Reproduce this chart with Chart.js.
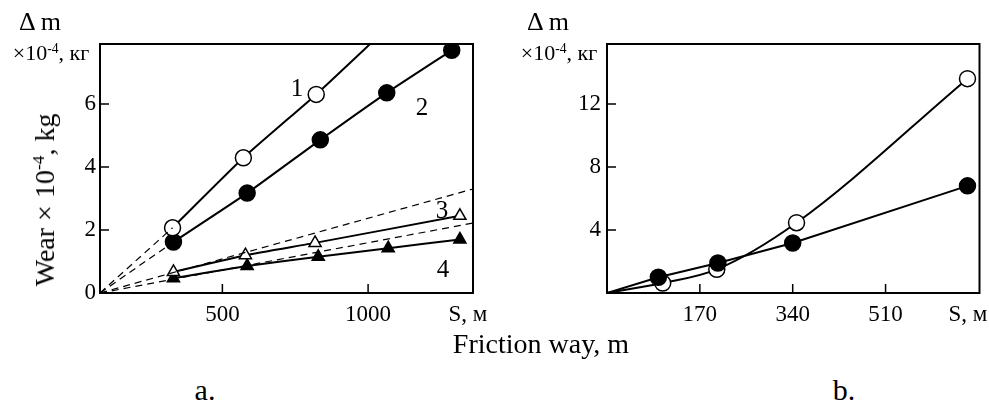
<!DOCTYPE html>
<html>
<head>
<meta charset="utf-8">
<script src="https://cdn.jsdelivr.net/npm/chart.js@4.4.0/dist/chart.umd.min.js"></script>
<style>
  body { margin: 0; background: #fff; }
  #wrap { position: relative; width: 989px; height: 405px; overflow: hidden; font-family: 'Liberation Serif', 'DejaVu Serif', serif; color: #000; }
  canvas { position: absolute; top: 0; }
  .t { position: absolute; transform: translate(-50%, -50%); white-space: nowrap; line-height: 1; }
  .t sup { font-size: 0.62em; vertical-align: 0.55em; line-height: 0; }
</style>
</head>
<body>
<div id="wrap">
  <canvas id="chartA" width="500" height="330" style="left:0"></canvas>
  <canvas id="chartB" width="489" height="330" style="left:500px"></canvas>

  <div class="t" style="left:40px;top:22px;font-size:26px">Δ m</div>
  <div class="t" style="left:51px;top:53px;font-size:22px">×10<sup>-4</sup>, кг</div>
  <div class="t" style="left:548px;top:22px;font-size:26px">Δ m</div>
  <div class="t" style="left:559px;top:53px;font-size:22px">×10<sup>-4</sup>, кг</div>
  <div class="t" style="left:45px;top:200px;font-size:28px;transform:translate(-50%,-50%) rotate(-90deg)">Wear × 10<sup>-4</sup>, kg</div>
  <div class="t" style="left:468px;top:313px;font-size:23px">S, м</div>
  <div class="t" style="left:968px;top:313px;font-size:23px">S, м</div>
  <div class="t" style="left:541px;top:344px;font-size:28px">Friction way, m</div>
  <div class="t" style="left:205px;top:390px;font-size:30px">a.</div>
  <div class="t" style="left:844px;top:390px;font-size:30px">b.</div>
  <div class="t" style="left:297px;top:87px;font-size:25px">1</div>
  <div class="t" style="left:422px;top:106px;font-size:25px">2</div>
  <div class="t" style="left:442px;top:209px;font-size:25px">3</div>
  <div class="t" style="left:443px;top:268px;font-size:25px">4</div>
</div>

<script>
// panel a: friction way S, m -> wear x10^-4 kg
var aOrigin = 80;
var a1S = [329, 572, 822, 1007];
var a1W = [2.07, 4.29, 6.3, 7.9];
var a2S = [332, 585, 836, 1064, 1287];
var a2W = [1.62, 3.17, 4.86, 6.35, 7.7];
var a3S = [332, 579, 818, 1315];
var a3W = [0.67, 1.2, 1.59, 2.45];
var a4S = [332, 585, 829, 1069, 1315];
var a4W = [0.47, 0.86, 1.15, 1.42, 1.7];
// dashed straight lines from origin
var aDashEndS = [329, 332, 1360, 1360];
var aDashEndW = [2.07, 1.62, 3.3, 2.22];
var aTicksX = [500, 1000];
var aTicksY = [0, 2, 4, 6];

// panel b
var bOpenS = [0, 102, 201, 347, 660];
var bOpenW = [0, 0.63, 1.5, 4.46, 13.6];
var bFillS = [0, 94, 203, 340, 660];
var bFillW = [0, 1.0, 1.9, 3.17, 6.8];
var bTicksX = [170, 340, 510];
var bTicksY = [4, 8, 12];

var serif = "'Liberation Serif', 'DejaVu Serif', serif";

function pts(xs, ys) {
    return xs.map((x, i) => ({ x: x, y: ys[i] }));
}

// box round the plot and short ticks pointing inward
var frame = {
    id: 'frame',
    afterDraw: function (chart, args, opts) {
        var c = chart.ctx, a = chart.chartArea;
        c.save();
        c.strokeStyle = '#000';
        c.lineWidth = 2;
        c.strokeRect(a.left, a.top, a.right - a.left, a.bottom - a.top);
        c.lineWidth = 1.5;
        c.beginPath();
        opts.xt.forEach(v => {
            var px = chart.scales.x.getPixelForValue(v);
            c.moveTo(px, a.bottom);
            c.lineTo(px, a.bottom - 9);
        });
        opts.yt.forEach(v => {
            var py = chart.scales.y.getPixelForValue(v);
            c.moveTo(a.left, py);
            c.lineTo(a.left + 9, py);
        });
        c.stroke();
        c.restore();
    }
};

function axis(min, max, ticks, pad, fit) {
    return {
        type: 'linear',
        min: min,
        max: max,
        grid: { display: false, drawTicks: false },
        border: { display: false },
        afterBuildTicks: function (s) { s.ticks = ticks.map(v => ({ value: v })); },
        afterFit: fit,
        ticks: {
            color: '#000',
            padding: pad,
            font: { family: serif, size: 23 },
            callback: v => String(v)
        }
    };
}

function solid(data, style, fill, r) {
    return {
        data: data,
        borderColor: '#000',
        borderWidth: 2,
        pointStyle: style,
        pointRadius: r,
        pointBackgroundColor: fill,
        pointBorderColor: '#000',
        pointBorderWidth: 1.5,
        tension: 0.15
    };
}

function dashed(i) {
    return {
        data: [{ x: aOrigin, y: 0 }, { x: aDashEndS[i], y: aDashEndW[i] }],
        borderColor: '#000',
        borderWidth: 1.2,
        borderDash: [7, 5],
        pointRadius: 0
    };
}

var baseOpts = {
    responsive: false,
    animation: false,
    devicePixelRatio: 1,
    plugins: { legend: { display: false }, tooltip: { enabled: false } }
};

new Chart(document.getElementById('chartA').getContext('2d'), {
    type: 'line',
    data: {
        datasets: [
            dashed(0), dashed(1), dashed(2), dashed(3),
            solid(pts(a1S, a1W), 'circle', '#fff', ctx => ctx.dataIndex < 3 ? 8 : 0),
            solid(pts(a2S, a2W), 'circle', '#000', 8),
            solid(pts(a3S, a3W), 'triangle', '#fff', 7),
            solid(pts(a4S, a4W), 'triangle', '#000', 7)
        ]
    },
    options: Object.assign({}, baseOpts, {
        layout: { padding: { top: 44, right: 27, left: 0, bottom: 0 } },
        scales: {
            x: axis(aOrigin, 1360, aTicksX, 8, s => { s.height = 37; }),
            y: axis(0, 7.9, aTicksY, 4, s => { s.width = 100; })
        },
        plugins: Object.assign({}, baseOpts.plugins, { frame: { xt: aTicksX, yt: aTicksY.slice(1) } })
    }),
    plugins: [frame]
});

var bOpen = solid(pts(bOpenS, bOpenW), 'circle', '#fff', ctx => ctx.dataIndex > 0 ? 8 : 0);
bOpen.cubicInterpolationMode = 'monotone';
var bFill = solid(pts(bFillS, bFillW), 'circle', '#000', ctx => ctx.dataIndex > 0 ? 8 : 0);
bFill.tension = 0;

new Chart(document.getElementById('chartB').getContext('2d'), {
    type: 'line',
    data: { datasets: [bFill, bOpen] },
    options: Object.assign({}, baseOpts, {
        layout: { padding: { top: 44, right: 9, left: 0, bottom: 0 } },
        scales: {
            x: axis(0, 682, bTicksX, 8, s => { s.height = 37; }),
            y: axis(0, 15.8, bTicksY, 6, s => { s.width = 107; })
        },
        plugins: Object.assign({}, baseOpts.plugins, { frame: { xt: bTicksX, yt: bTicksY } })
    }),
    plugins: [frame]
});
</script>
</body>
</html>
